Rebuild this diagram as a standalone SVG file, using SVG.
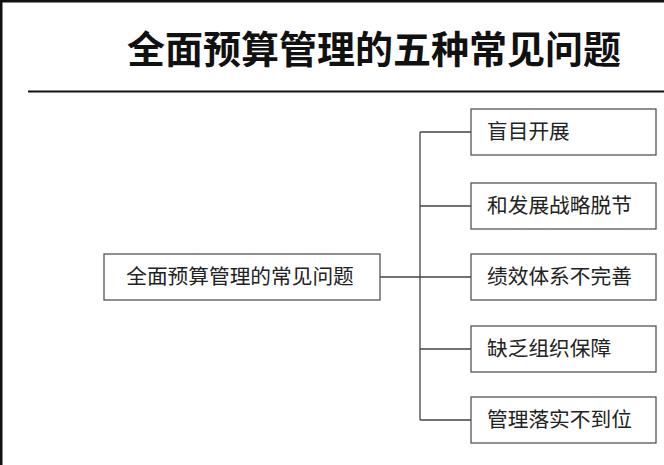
<svg xmlns="http://www.w3.org/2000/svg" width="664" height="465" viewBox="0 0 664 465">
<style>
.b{fill:#fff;stroke:#555;stroke-width:1.3}
.t{font-family:"Noto Sans CJK SC",sans-serif;font-size:20.7px;fill:#222}
.c{stroke:#444;stroke-width:1.3;fill:none}
</style>
<rect width="664" height="465" fill="#fff"/>
<path d="M1 465V1H664" stroke="#111" stroke-width="3" fill="none"/>
<text x="374" y="63" text-anchor="middle" font-family="Noto Sans CJK SC,sans-serif" font-weight="bold" font-size="38" fill="#111">全面预算管理的五种常见问题</text>
<line x1="28" y1="91.5" x2="664" y2="91.5" stroke="#111" stroke-width="2"/>
<g id="connectors" class="c">
<path d="M380 277H420M420 132V420M420 132H471M420 206H471M420 277H471M420 349H471M420 420H471"/>
</g>
<g id="root"><rect class="b" x="104" y="254" width="276" height="46"/><text class="t" x="240" y="284" text-anchor="middle">全面预算管理的常见问题</text></g>
<g id="n1"><rect class="b" x="471" y="109" width="185" height="46"/><text class="t" x="487" y="139">盲目开展</text></g>
<g id="n2"><rect class="b" x="471" y="183" width="185" height="46"/><text class="t" x="487" y="213">和发展战略脱节</text></g>
<g id="n3"><rect class="b" x="471" y="254" width="185" height="46"/><text class="t" x="487" y="284">绩效体系不完善</text></g>
<g id="n4"><rect class="b" x="471" y="326" width="185" height="46"/><text class="t" x="487" y="356">缺乏组织保障</text></g>
<g id="n5"><rect class="b" x="471" y="397" width="185" height="46"/><text class="t" x="487" y="427">管理落实不到位</text></g>
</svg>
